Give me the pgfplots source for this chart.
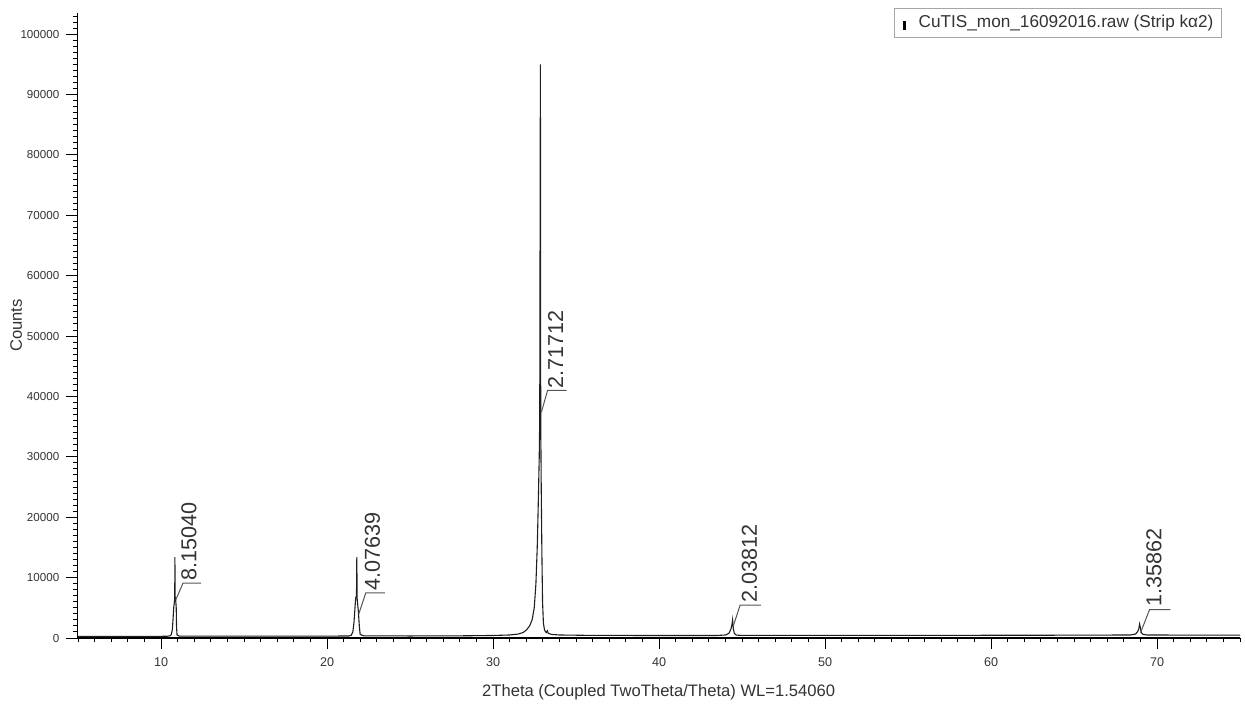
\documentclass[border=0pt]{standalone}
\usepackage{fontspec}
\setmainfont{Liberation Sans}
\usepackage{pgfplots}
\pgfplotsset{compat=1.18}
\definecolor{txt}{HTML}{333333}
\definecolor{curve}{HTML}{1E1E1E}
\definecolor{lead}{HTML}{555555}
\begin{document}
\begin{tikzpicture}[x=1pt,y=1pt]
\path[use as bounding box] (0,0) rectangle (622.5,354);
\begin{axis}[
  at={(38.65pt,35pt)}, anchor=south west,
  scale only axis, width=581.35pt, height=312.5pt,
  xmin=4.95, xmax=75, ymin=0, ymax=103500,
  axis lines=left, axis line style={-, line width=0.6pt, black},
  tick align=outside,
  xtick={10,20,...,70},
  xticklabels={10,20,30,40,50,60,70},
  minor xtick={5,6,...,75},
  ytick={0,10000,...,100000},
  yticklabels={0,10000,20000,30000,40000,50000,60000,70000,80000,90000,100000},
  minor ytick={0,1000,...,103000},
  major tick length=5.5pt, minor tick length=2.2pt,
  every tick/.style={black, line width=0.5pt},
  scaled y ticks=false,
  yticklabel style={font=\fontsize{5.8}{7}\selectfont, text=txt},
  xticklabel style={font=\fontsize{6.3}{7.5}\selectfont, text=txt, yshift=-1pt},
  xlabel={2Theta (Coupled TwoTheta/Theta) WL=1.54060},
  ylabel={Counts},
  xlabel style={at={(axis description cs:0.5,-0.0875)}, anchor=center, font=\fontsize{8.3}{10}\selectfont, text=txt},
  ylabel style={at={(axis description cs:-0.0525,0.5)}, anchor=center, font=\fontsize{8.3}{10}\selectfont, text=txt},
  legend style={at={(rel axis cs:0.9845,1.008)}, anchor=north east, draw=gray!70, line width=0.5pt, fill=white,
    font=\fontsize{8.6}{10}\selectfont, text=txt, inner xsep=2pt, inner ysep=1.5pt},
  legend cell align=left,
  legend image code/.code={\path[draw=none] (0pt,0pt) -- (8pt,0pt); \draw[black, line width=1.7pt] (3pt,-3.4pt) -- (3pt,1.1pt);},
  clip=false,
]
\addplot[curve, line width=0.55pt] coordinates {
(4.95,250) (6,250) (8,260) (10,280) (10.4,300) (10.55,380) (10.62,600) (10.68,1500) (10.72,3200) (10.76,5000) (10.8,6000) (10.82,6400) (10.83,13400) (10.845,6800) (10.88,6200) (10.91,5000) (10.93,1800) (10.96,500) (11.1,320) (13,300) (16,300) (19,310) (21.3,330) (21.45,450) (21.55,1000) (21.62,2600) (21.68,5000) (21.72,6600) (21.77,7000) (21.79,13400) (21.81,6500) (21.88,4500) (21.94,2000) (21.99,600) (22.2,360) (25,340) (28,360) (30,420) (31,500) (31.5,650) (31.8,900) (32.0,1300) (32.2,2000) (32.35,3000) (32.48,5000) (32.58,9000) (32.66,15000) (32.72,22000) (32.78,30000) (32.81,36500) (32.85,95000) (32.87,36000) (32.9,25000) (32.94,14000) (32.98,6000) (33.03,2500) (33.1,1300) (33.2,900) (33.27,1200) (33.32,800) (33.5,600) (34,500) (36,430) (40,420) (43.5,420) (44.0,500) (44.2,750) (44.32,1400) (44.39,2200) (44.43,3000) (44.47,1600) (44.53,800) (44.65,480) (45,430) (50,430) (55,440) (60,450) (65,470) (68.4,500) (68.7,650) (68.82,1000) (68.9,1500) (68.95,2300) (68.99,1800) (69.05,900) (69.15,600) (69.4,500) (72,480) (75,480)
};
\addlegendentry{CuTIS\_mon\_16092016.raw (Strip kα2)}
% peak annotations
\draw[lead, line width=0.5pt] (axis cs:10.88,6300) -- (axis cs:11.32,9100) -- (axis cs:12.41,9100);
\node[rotate=90, anchor=west, inner sep=0pt, font=\fontsize{10.8}{12}\selectfont, text=txt] at (axis cs:11.68,9450) {8.15040};
\draw[lead, line width=0.5pt] (axis cs:21.91,4000) -- (axis cs:22.33,7480) -- (axis cs:23.48,7480);
\node[rotate=90, anchor=west, inner sep=0pt, font=\fontsize{10.8}{12}\selectfont, text=txt] at (axis cs:22.73,7800) {4.07639};
\draw[lead, line width=0.5pt] (axis cs:32.91,37400) -- (axis cs:33.28,41000) -- (axis cs:34.43,41000);
\node[rotate=90, anchor=west, inner sep=0pt, font=\fontsize{10.8}{12}\selectfont, text=txt] at (axis cs:33.77,41300) {2.71712};
\draw[lead, line width=0.5pt] (axis cs:44.45,1800) -- (axis cs:44.88,5430) -- (axis cs:46.14,5430);
\node[rotate=90, anchor=west, inner sep=0pt, font=\fontsize{10.8}{12}\selectfont, text=txt] at (axis cs:45.44,5800) {2.03812};
\draw[lead, line width=0.5pt] (axis cs:69.01,900) -- (axis cs:69.55,4700) -- (axis cs:70.81,4700);
\node[rotate=90, anchor=west, inner sep=0pt, font=\fontsize{10.8}{12}\selectfont, text=txt] at (axis cs:69.81,5100) {1.35862};
\end{axis}
\end{tikzpicture}
\end{document}
